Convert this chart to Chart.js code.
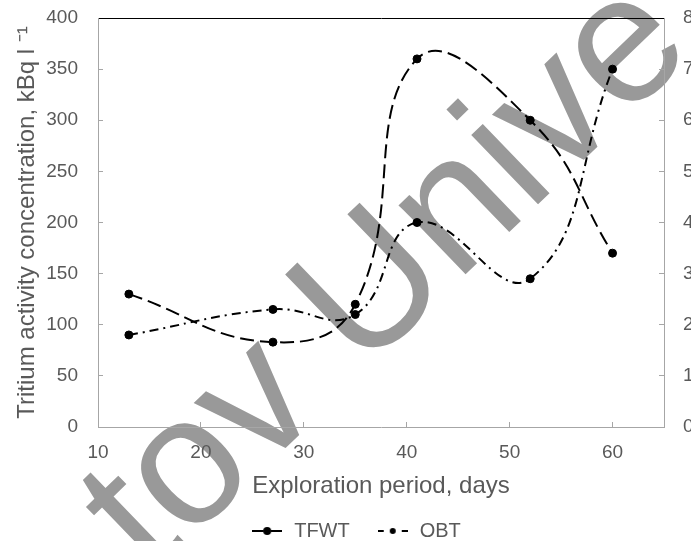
<!DOCTYPE html>
<html lang="en">
<head>
<meta charset="UTF-8">
<title>Tritium activity concentration</title>
<style>
  html, body { margin: 0; padding: 0; background: #fff; overflow: hidden; }
  #grafico { display: block; }
</style>
</head>
<body>
<canvas id="grafico" width="691" height="551"></canvas>

<script src="https://cdn.jsdelivr.net/npm/chart.js"></script>
<script>
// exploration period, days
const dias = [13, 27, 35, 41, 52, 60];
// TFWT, left axis (kBq l-1)
const tfwt = [130, 83, 120, 360, 300, 170];
// OBT, right axis
const obt = [1.8, 2.3, 2.2, 4.0, 2.9, 7.0];

const ticksX = [10, 20, 30, 40, 50, 60];
const ticksEsq = [0, 50, 100, 150, 200, 250, 300, 350, 400];
const ticksDir = [0, 1, 2, 3, 4, 5, 6, 7, 8];

const cinzaTexto = '#595959';
const cinzaEixo = '#a6a6a6';
const fonte = '"Liberation Sans", Arial, sans-serif';
Chart.defaults.font.family = fonte;

// little line+dot pictures for the legend
function marcador(curto) {
  const c = document.createElement('canvas');
  c.width = 30; c.height = 10;
  const g = c.getContext('2d');
  g.fillStyle = '#000';
  if (curto) {
    g.fillRect(0, 4, 6, 2);
    g.fillRect(24, 4, 6, 2);
    g.beginPath(); g.arc(15, 5, 3, 0, Math.PI * 2); g.fill();
  } else {
    g.fillRect(0, 4, 11, 2);
    g.fillRect(19, 4, 11, 2);
    g.beginPath(); g.arc(15, 5, 4, 0, Math.PI * 2); g.fill();
  }
  return c;
}
const marcadores = [marcador(false), marcador(true)];

// grey watermark behind everything
const marcaDagua = {
  id: 'marcaDagua',
  beforeDraw(chart) {
    const ctx = chart.ctx;
    ctx.save();
    ctx.translate(116, 542);
    ctx.rotate(-44 * Math.PI / 180);
    ctx.font = '182px ' + fonte;
    ctx.fillStyle = '#999999';
    ctx.fillText('tov Unive', 0, 0);
    ctx.restore();
  }
};

function usarTicks(lista) {
  return function (escala) {
    escala.ticks = lista.map(v => ({ value: v }));
  };
}

// fixed axis sizes, and no extra room above/below for the tick labels
function tamanho(lado, valor) {
  return function (escala) {
    escala[lado] = valor;
    escala.paddingTop = 0;
    escala.paddingBottom = 0;
  };
}

const ctx = document.getElementById('grafico');

new Chart(ctx, {
  type: 'line',
  data: {
    datasets: [{
      label: 'TFWT',
      data: dias.map((d, i) => ({ x: d, y: tfwt[i] })),
      yAxisID: 'y',
      borderColor: '#000',
      borderWidth: 2,
      borderDash: [14, 6],
      tension: 0.45,
      pointRadius: 4,
      pointBackgroundColor: '#000',
      pointBorderColor: '#000',
      pointBorderWidth: 1
    }, {
      label: 'OBT',
      data: dias.map((d, i) => ({ x: d, y: obt[i] })),
      yAxisID: 'y2',
      borderColor: '#000',
      borderWidth: 2,
      borderDash: [9, 5, 2, 5],
      tension: 0.45,
      pointRadius: 4,
      pointBackgroundColor: '#000',
      pointBorderColor: '#000',
      pointBorderWidth: 1
    }]
  },
  options: {
    responsive: false,
    animation: false,
    layout: { padding: { top: 18, left: 20, right: 0, bottom: 0 } },
    plugins: {
      tooltip: { enabled: false },
      legend: {
        position: 'bottom',
        labels: {
          usePointStyle: true,
          pointStyleWidth: 34,
          padding: 26,
          color: cinzaTexto,
          font: { size: 20 },
          generateLabels: chart => chart.data.datasets.map((ds, i) => ({
            text: ds.label,
            pointStyle: marcadores[i],
            fillStyle: '#000',
            strokeStyle: '#000',
            lineWidth: 0,
            hidden: false,
            fontColor: cinzaTexto,
            datasetIndex: i
          }))
        }
      }
    },
    scales: {
      x: {
        type: 'linear',
        position: 'bottom',
        min: 10,
        max: 65,
        afterBuildTicks: usarTicks(ticksX),
        afterFit: s => { s.height = 68; },
        grid: { drawOnChartArea: false, tickLength: -5, color: cinzaEixo },
        border: { color: cinzaEixo },
        ticks: { color: cinzaTexto, font: { size: 19 }, padding: 19, maxRotation: 0 },
        title: {
          display: true,
          text: 'Exploration period, days',
          color: cinzaTexto,
          font: { size: 24 },
          padding: { top: 0, bottom: -6 }
        }
      },
      x2: {
        type: 'linear',
        position: 'top',
        min: 10,
        max: 65,
        afterFit: s => { s.height = 0; },
        grid: { drawOnChartArea: false, drawTicks: false },
        border: { color: '#000', width: 1 },
        ticks: { display: false }
      },
      y: {
        position: 'left',
        min: 0,
        max: 400,
        afterBuildTicks: usarTicks(ticksEsq),
        afterFit: tamanho('width', 78),
        grid: { drawOnChartArea: false, tickLength: -5, color: cinzaEixo },
        border: { color: cinzaEixo },
        ticks: { color: cinzaTexto, font: { size: 19 }, padding: 25 },
        title: {
          display: true,
          text: 'Tritium activity concentration, kBq l \u207B\u00B9',
          color: cinzaTexto,
          font: { size: 24 },
          padding: { top: -7, bottom: 0 }
        }
      },
      y2: {
        position: 'right',
        min: 0,
        max: 8,
        afterBuildTicks: usarTicks(ticksDir),
        afterFit: tamanho('width', 27),
        grid: { drawOnChartArea: false, tickLength: -5, color: cinzaEixo },
        border: { color: cinzaEixo },
        ticks: { color: cinzaTexto, font: { size: 19 }, padding: 24 }
      }
    }
  },
  plugins: [marcaDagua]
});
</script>
</body>
</html>
